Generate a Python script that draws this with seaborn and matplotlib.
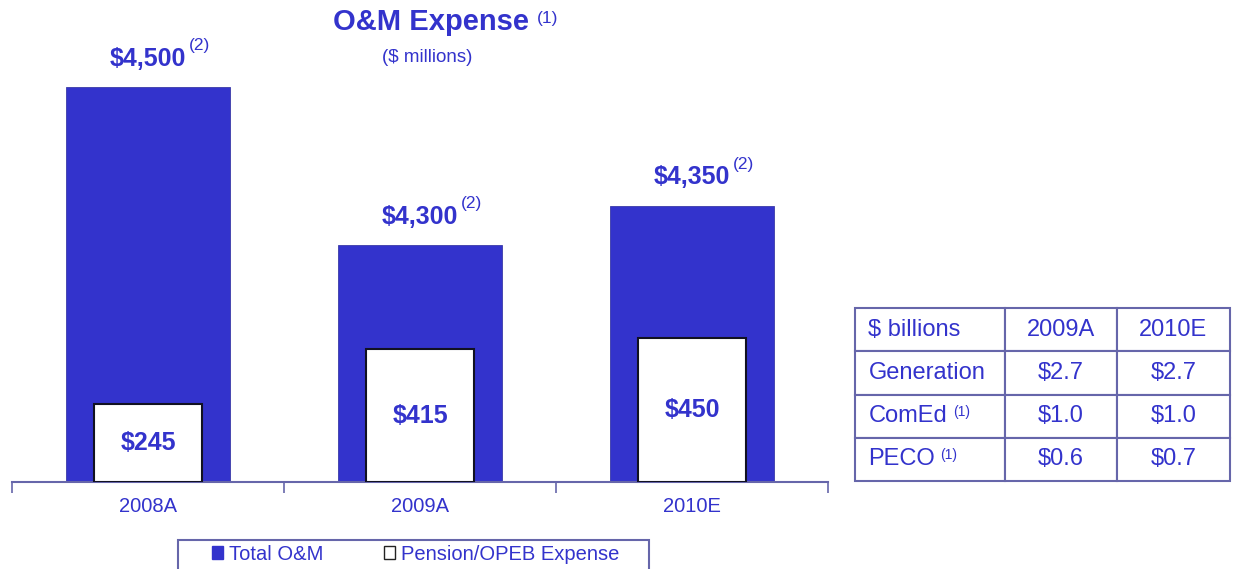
import matplotlib
matplotlib.use("Agg")
import matplotlib.pyplot as plt
from matplotlib.patches import Patch, Rectangle
import seaborn as sns

# ---- data ----
categories = ["2008A", "2009A", "2010E"]
total_om = [4500, 4300, 4350]
total_labels = ["$4,500", "$4,300", "$4,350"]
pension = [245, 415, 450]
pension_labels = ["$245", "$415", "$450"]
table_header = ["$ billions", "2009A", "2010E"]
table_rows = ["Generation", "ComEd", "PECO"]
table_2009 = ["$2.7", "$1.0", "$0.6"]
table_2010 = ["$2.7", "$1.0", "$0.7"]

BLUE = "#3333CC"
LINE = "#6666AA"
PX = 0.72  # points per pixel at dpi 100

sns.set_theme(style="white")
plt.rcParams["font.family"] = ["Liberation Sans", "DejaVu Sans"]

fig = plt.figure(figsize=(12.34, 5.69), dpi=100)
W, H = 1234, 569

# main axes: x 12..828 px, baseline y=482, top y=20
ax = fig.add_axes([12 / W, (H - 482) / H, 816 / W, 462 / H])
sns.barplot(x=categories, y=total_om, ax=ax, color=BLUE, width=0.6,
            saturation=1, edgecolor="#3a3aa8", linewidth=0.6)
ax.set_ylim(4000, 4000 + 462 / 0.79)
ax.set_xlim(-0.5, 2.5)

ax2 = ax.twinx()
sns.barplot(x=categories, y=pension, ax=ax2, color="white", width=0.4,
            saturation=1, edgecolor="#111122", linewidth=1.5)
ax2.set_ylim(0, 462 / 0.32)
ax2.set_xlim(-0.5, 2.5)

for a in (ax, ax2):
    for s in ("top", "right", "left"):
        a.spines[s].set_visible(False)
    a.set_yticks([])
    a.set_ylabel("")
    a.set_xlabel("")
ax2.spines["bottom"].set_visible(False)
ax.spines["bottom"].set_color(LINE)
ax.spines["bottom"].set_linewidth(1.5)

# ticks: boundaries as major ticks, labels on minor ticks
ax.set_xticks([-0.5, 0.5, 1.5, 2.5])
ax.set_xticklabels([])
ax.set_xticks([0, 1, 2], minor=True)
ax.set_xticklabels(categories, minor=True)
ax.tick_params(axis="x", which="major", length=8, width=1.2, color=LINE,
               direction="out", bottom=True)
ax.tick_params(axis="x", which="minor", length=0, pad=11, labelsize=14.5,
               labelcolor=BLUE, bottom=True)
ax2.tick_params(axis="x", which="both", length=0, labelbottom=False)

# value labels
for i, (v, lab) in enumerate(zip(total_om, total_labels)):
    ax.annotate(lab, xy=(i, v), xytext=(0, 21 * PX), textcoords="offset points",
                ha="center", va="baseline", fontsize=18, fontweight="bold",
                color=BLUE)
    ax.annotate("(2)", xy=(i, v), xytext=(41 * PX, 37 * PX),
                textcoords="offset points", ha="left", va="baseline",
                fontsize=12.5, color=BLUE)
for i, (v, lab) in enumerate(zip(pension, pension_labels)):
    ax2.text(i, v / 2, lab, ha="center", va="center", fontsize=18,
             fontweight="bold", color=BLUE)

# title
fig.text(431 / W, 1 - 22 / H, "O&M Expense", ha="center", va="center",
         fontsize=21, fontweight="bold", color=BLUE)
fig.text(537 / W, 1 - 19 / H, "(1)", ha="left", va="center", fontsize=12.5,
         color=BLUE)
fig.text(427 / W, 1 - 57 / H, "($ millions)", ha="center", va="center",
         fontsize=13.5, color=BLUE)

# legend (frame drawn separately, bottom runs off the figure)
fig.patches.append(Rectangle((178 / W, -0.05), (649 - 178) / W, 0.05 + (H - 540) / H,
                             transform=fig.transFigure, facecolor="white",
                             edgecolor=LINE, linewidth=1.5))
handles = [Patch(facecolor=BLUE, edgecolor=BLUE, label="Total O&M"),
           Patch(facecolor="white", edgecolor="#222222", label="Pension/OPEB Expense")]
leg = fig.legend(handles=handles, loc="center left",
                 bbox_to_anchor=(212 / W, 1 - 554 / H), ncol=2, frameon=False,
                 fontsize=14.5, handlelength=0.55, handleheight=0.65,
                 handletextpad=0.3, columnspacing=3.0, borderpad=0,
                 borderaxespad=0, labelcolor=BLUE)

# table
tax = fig.add_axes([855 / W, (H - 481) / H, 375 / W, 173 / H])
tax.axis("off")
cell_text = [[r, a, b] for r, a, b in zip(table_rows, table_2009, table_2010)]
tbl = tax.table(cellText=cell_text, colLabels=table_header,
                colWidths=[150 / 375, 112 / 375, 113 / 375], bbox=[0, 0, 1, 1])
tbl.auto_set_font_size(False)
for (r, c), cell in tbl.get_celld().items():
    cell.set_edgecolor(LINE)
    cell.set_linewidth(1.5)
    cell.set_facecolor("white")
    t = cell.get_text()
    t.set_fontsize(17)
    t.set_color(BLUE)
    if c == 0:
        cell.set_text_props(ha="left")
        cell.PAD = 0.09
    else:
        cell.set_text_props(ha="center")

# superscripts in table
fig.text(953 / W, 1 - 412 / H, "(1)", ha="left", va="center", fontsize=10,
         color=BLUE)
fig.text(940 / W, 1 - 455 / H, "(1)", ha="left", va="center", fontsize=10,
         color=BLUE)

fig.savefig("out.png", dpi=100)
